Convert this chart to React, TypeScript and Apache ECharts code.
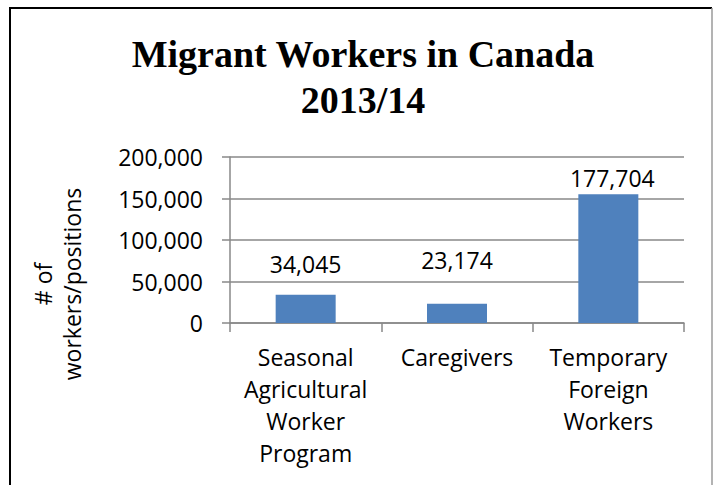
import React, { useEffect, useRef } from "react";
import * as echarts from "echarts";

const categories = [
  "Seasonal\nAgricultural\nWorker\nProgram",
  "Caregivers",
  "Temporary\nForeign\nWorkers",
];
const barValues = [34045, 23174, 155000];
const valueLabels = ["34,045", "23,174", "177,704"];
const yTickLabels: Record<number, string> = {
  0: "0",
  50000: "50,000",
  100000: "100,000",
  150000: "150,000",
  200000: "200,000",
};
const titleText = "Migrant Workers in Canada\n2013/14";
const yAxisTitle = "# of\nworkers/positions";

const labelOffsets = [
  [0, -17],
  [0, -30],
  [4, -2],
];

export default function App() {
  const ref = useRef<HTMLDivElement>(null);
  useEffect(() => {
    if (!ref.current) return;
    const chart = echarts.init(ref.current, null, { renderer: "svg" });
    const font = "'Open Sans', sans-serif";
    chart.setOption({
      animation: false,
      backgroundColor: "#ffffff",
      title: {
        text: titleText,
        left: 358,
        top: 26,
        textAlign: "center",
        textStyle: {
          fontFamily: "'Liberation Serif', serif",
          fontWeight: "bold",
          fontSize: 38,
          lineHeight: 46,
          color: "#000",
        },
      },
      grid: { left: 230, top: 157, width: 454, height: 166, containLabel: false },
      xAxis: {
        type: "category",
        data: categories,
        axisLine: { lineStyle: { color: "#898989", width: 1.5 } },
        axisTick: { show: true, length: 9, lineStyle: { color: "#898989", width: 1.5 } },
        axisLabel: {
          margin: 18,
          fontFamily: font,
          fontSize: 23,
          lineHeight: 32,
          color: "#000",
          interval: 0,
          align: "center",
        },
      },
      yAxis: {
        type: "value",
        min: 0,
        max: 200000,
        interval: 50000,
        axisLine: { show: true, lineStyle: { color: "#898989", width: 1.5 } },
        axisTick: { show: true, length: 8, lineStyle: { color: "#898989", width: 1.5 } },
        splitLine: { lineStyle: { color: "#898989", width: 1.5 } },
        axisLabel: {
          margin: 27,
          fontFamily: font,
          fontSize: 23,
          color: "#000",
          formatter: (v: number) => yTickLabels[v] ?? String(v),
        },
      },
      series: [
        {
          type: "bar",
          barWidth: 60,
          itemStyle: { color: "#4F81BD" },
          data: barValues.map((v, i) => ({
            value: v,
            label: {
              show: true,
              position: "top",
              distance: 0,
              offset: labelOffsets[i],
              formatter: valueLabels[i],
              fontFamily: font,
              fontSize: 23,
              lineHeight: 28,
              color: "#000",
            },
          })),
        },
      ],
      graphic: [
        {
          type: "text",
          x: 57,
          y: 284,
          rotation: Math.PI / 2,
          style: {
            text: yAxisTitle,
            fontFamily: font,
            fontSize: 23,
            lineHeight: 29,
            align: "center",
            verticalAlign: "middle",
            fill: "#000",
          },
        },
        {
          type: "line",
          shape: { x1: 10, y1: 8, x2: 10, y2: 490 },
          style: { stroke: "#000", lineWidth: 2 },
        },
        {
          type: "line",
          shape: { x1: 9, y1: 8, x2: 712, y2: 8 },
          style: { stroke: "#000", lineWidth: 2 },
        },
        {
          type: "line",
          shape: { x1: 712, y1: 8, x2: 712, y2: 490 },
          style: { stroke: "#9a9a9a", lineWidth: 1.5 },
        },
      ],
    });
    return () => chart.dispose();
  }, []);
  return (
    <div
      ref={ref}
      style={{ position: "fixed", left: 0, top: 0, width: 713, height: 485 }}
    />
  );
}
